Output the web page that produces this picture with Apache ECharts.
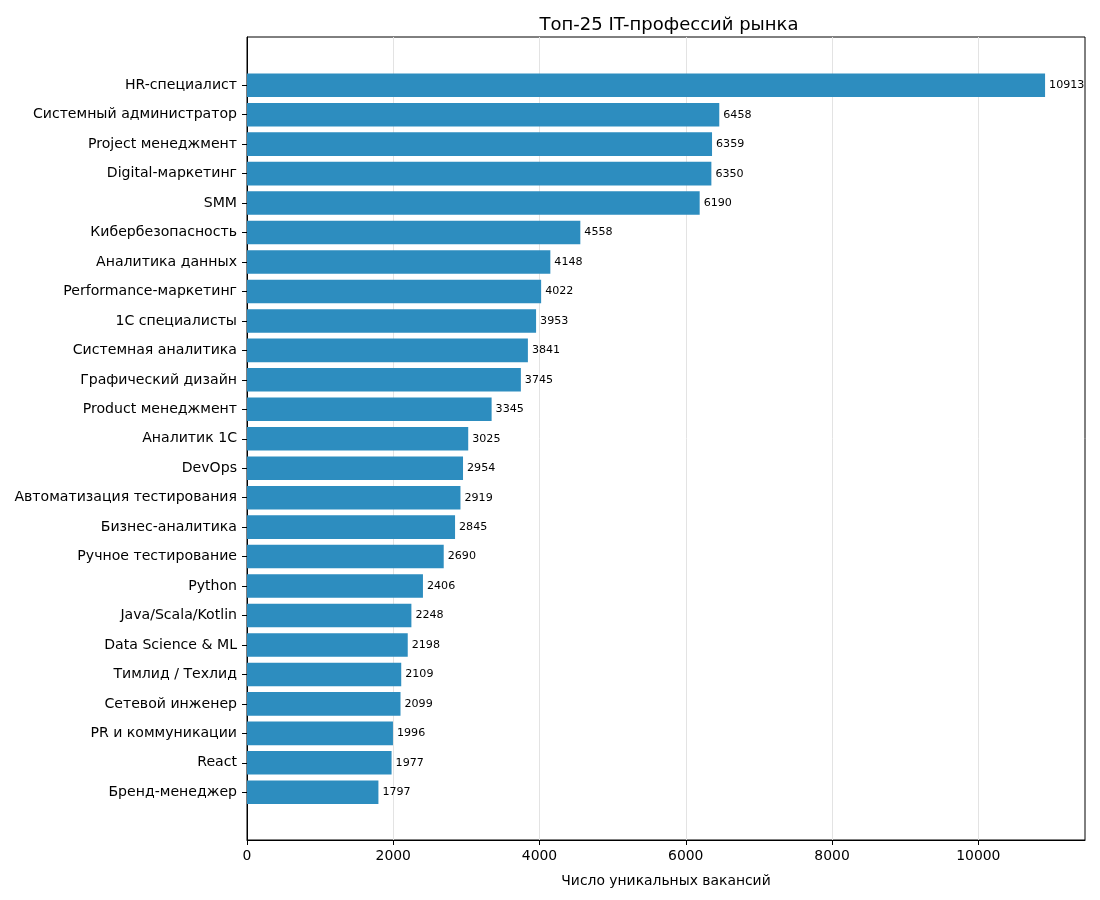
<!DOCTYPE html>
<html>
<head>
<meta charset="utf-8">
<script src="https://cdn.jsdelivr.net/npm/echarts@6/dist/echarts.min.js"></script>
<style>
  html, body { margin: 0; padding: 0; background: #fff; }
  #chart { width: 1100px; height: 900px; }
</style>
</head>
<body>
<div id="chart"></div>
<script>
// категории сверху вниз
var professions = [
    'HR-специалист', 'Системный администратор', 'Project менеджмент', 'Digital-маркетинг',
    'SMM', 'Кибербезопасность', 'Аналитика данных', 'Performance-маркетинг',
    '1С специалисты', 'Системная аналитика', 'Графический дизайн', 'Product менеджмент',
    'Аналитик 1С', 'DevOps', 'Автоматизация тестирования', 'Бизнес-аналитика',
    'Ручное тестирование', 'Python', 'Java/Scala/Kotlin', 'Data Science & ML',
    'Тимлид / Техлид', 'Сетевой инженер', 'PR и коммуникации', 'React', 'Бренд-менеджер'
];
var vacancies = [
    10913, 6458, 6359, 6350, 6190, 4558, 4148, 4022, 3953, 3841, 3745, 3345,
    3025, 2954, 2919, 2845, 2690, 2406, 2248, 2198, 2109, 2099, 1996, 1977, 1797
];
var xTicks = [0, 2000, 4000, 6000, 8000, 10000];

var font = 'DejaVu Sans';
var xMax = 11459; // как у matplotlib: максимум * 1.05

var chart = echarts.init(document.getElementById('chart'));

var option = {
    backgroundColor: '#fff',
    animation: false,
    title: {
        text: 'Топ-25 IT-профессий рынка',
        left: 664,
        top: 11,
        textAlign: 'center',
        textStyle: { fontFamily: font, fontSize: 18, fontWeight: 'normal', color: '#000' }
    },
    grid: [
        // рамка и ось X
        { left: 247, top: 37, width: 838, height: 803, show: true, borderColor: '#000', borderWidth: 1, backgroundColor: 'transparent' },
        // полосы (с отступами как у matplotlib)
        { left: 247, top: 70.5, width: 838, height: 736.5 }
    ],
    xAxis: [
        {
            gridIndex: 0, type: 'value', min: 0, max: xMax, interval: 2000,
            axisLine: { show: true, lineStyle: { color: '#000' } },
            axisTick: { show: true, length: 5, customValues: xTicks, lineStyle: { color: '#000' } },
            axisLabel: {
                fontFamily: font, fontSize: 13.9, color: '#000', margin: 9,
                customValues: xTicks,
                formatter: function (v) { return String(v); }
            },
            splitLine: { show: true, lineStyle: { color: '#e3e3e3', width: 1 } },
            name: 'Число уникальных вакансий',
            nameLocation: 'middle',
            nameGap: 34,
            nameTextStyle: { fontFamily: font, fontSize: 13.9, color: '#000' }
        },
        {
            gridIndex: 1, type: 'value', min: 0, max: xMax, show: false
        }
    ],
    yAxis: [
        {
            gridIndex: 0, type: 'value', min: 0, max: 1,
            axisLine: { show: true, lineStyle: { color: '#000' } },
            axisTick: { show: false }, axisLabel: { show: false }, splitLine: { show: false }
        },
        {
            gridIndex: 1, type: 'category', data: professions, inverse: true,
            axisLine: { show: false },
            axisTick: { show: true, length: 5, alignWithLabel: true, lineStyle: { color: '#000' } },
            axisLabel: { fontFamily: font, fontSize: 14.1, color: '#000', margin: 10 }
        }
    ],
    series: [{
        type: 'bar',
        xAxisIndex: 1,
        yAxisIndex: 1,
        data: vacancies,
        barWidth: '80%',
        itemStyle: { color: '#2d8dbf' },
        label: {
            show: true, position: 'right', distance: 4,
            fontFamily: font, fontSize: 11.1, color: '#000'
        }
    }]
};

chart.setOption(option);
</script>
</body>
</html>
